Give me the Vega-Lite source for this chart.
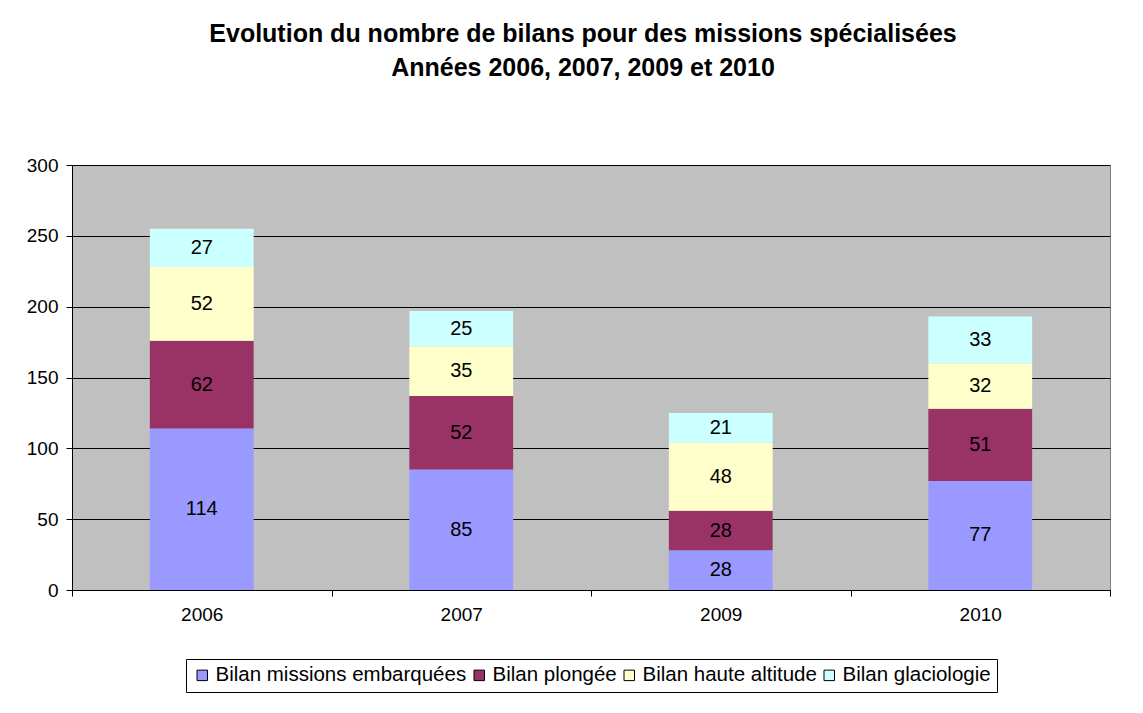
{
  "$schema": "https://vega.github.io/schema/vega-lite/v6.json",
  "autosize": {"type": "none"},
  "padding": {"left": 72, "top": 165, "right": 33, "bottom": 123},
  "width": 1038,
  "height": 425,
  "background": "white",
  "title": {
    "text": ["Evolution du nombre de bilans pour des missions spécialisées", "Années 2006, 2007, 2009 et 2010"],
    "font": "Liberation Sans",
    "fontSize": 25,
    "fontWeight": "bold",
    "color": "black",
    "lineHeight": 34,
    "offset": 75,
    "dx": -8,
    "anchor": "middle"
  },
  "data": {
    "values": [
      {"annee": "2006", "serie": "Bilan missions embarquées", "ordre": 1, "valeur": 114},
      {"annee": "2006", "serie": "Bilan plongée", "ordre": 2, "valeur": 62},
      {"annee": "2006", "serie": "Bilan haute altitude", "ordre": 3, "valeur": 52},
      {"annee": "2006", "serie": "Bilan glaciologie", "ordre": 4, "valeur": 27},
      {"annee": "2007", "serie": "Bilan missions embarquées", "ordre": 1, "valeur": 85},
      {"annee": "2007", "serie": "Bilan plongée", "ordre": 2, "valeur": 52},
      {"annee": "2007", "serie": "Bilan haute altitude", "ordre": 3, "valeur": 35},
      {"annee": "2007", "serie": "Bilan glaciologie", "ordre": 4, "valeur": 25},
      {"annee": "2009", "serie": "Bilan missions embarquées", "ordre": 1, "valeur": 28},
      {"annee": "2009", "serie": "Bilan plongée", "ordre": 2, "valeur": 28},
      {"annee": "2009", "serie": "Bilan haute altitude", "ordre": 3, "valeur": 48},
      {"annee": "2009", "serie": "Bilan glaciologie", "ordre": 4, "valeur": 21},
      {"annee": "2010", "serie": "Bilan missions embarquées", "ordre": 1, "valeur": 77},
      {"annee": "2010", "serie": "Bilan plongée", "ordre": 2, "valeur": 51},
      {"annee": "2010", "serie": "Bilan haute altitude", "ordre": 3, "valeur": 32},
      {"annee": "2010", "serie": "Bilan glaciologie", "ordre": 4, "valeur": 33}
    ]
  },
  "transform": [
    {"stack": "valeur", "groupby": ["annee"], "sort": [{"field": "ordre", "order": "ascending"}], "as": ["y0", "y1"]},
    {"calculate": "(datum.y0 + datum.y1) / 2", "as": "ymid"}
  ],
  "encoding": {
    "x": {
      "field": "annee",
      "type": "nominal",
      "title": null,
      "scale": {"paddingInner": 0, "paddingOuter": 0},
      "axis": {
        "labelAngle": 0,
        "labelFont": "Liberation Sans",
        "labelFontSize": 19,
        "labelColor": "black",
        "labelPadding": 9,
        "domainColor": "black",
        "tickColor": "black",
        "tickBand": "extent",
        "tickSize": 6,
        "ticks": true
      }
    }
  },
  "layer": [
    {
      "mark": {"type": "bar", "width": {"band": 0.4}},
      "encoding": {
        "y": {
          "field": "y0",
          "type": "quantitative",
          "title": null,
          "scale": {"domain": [0, 300]},
          "axis": {
            "values": [0, 50, 100, 150, 200, 250, 300],
            "labelFont": "Liberation Sans",
            "labelFontSize": 19,
            "labelColor": "black",
            "labelPadding": 8,
            "domainColor": "black",
            "tickColor": "black",
            "tickSize": 6,
            "gridColor": "black",
            "gridOpacity": 1,
            "grid": true
          }
        },
        "y2": {"field": "y1"},
        "color": {
          "field": "serie",
          "type": "nominal",
          "scale": {
            "domain": ["Bilan missions embarquées", "Bilan plongée", "Bilan haute altitude", "Bilan glaciologie"],
            "range": ["#9999FF", "#993366", "#FFFFCC", "#CCFFFF"]
          },
          "legend": {
            "title": null,
            "orient": "none",
            "legendX": 114,
            "legendY": 494,
            "direction": "horizontal",
            "symbolType": "square",
            "symbolSize": 110,
            "symbolStrokeColor": "black",
            "symbolStrokeWidth": 1,
            "symbolOpacity": 1,
            "labelFont": "Liberation Sans",
            "labelFontSize": 20.5,
            "labelColor": "black",
            "labelLimit": 500,
            "columnPadding": 2,
            "labelOffset": 3,
            "strokeColor": "black",
            "padding": 6
          }
        }
      }
    },
    {
      "mark": {"type": "text", "font": "Liberation Sans", "fontSize": 20, "color": "black", "baseline": "middle"},
      "encoding": {
        "y": {"field": "ymid", "type": "quantitative"},
        "text": {"field": "valeur", "type": "quantitative"}
      }
    }
  ],
  "config": {
    "view": {"fill": "#C0C0C0", "stroke": "#808080", "strokeWidth": 1},
    "axis": {"gridWidth": 1}
  }
}
